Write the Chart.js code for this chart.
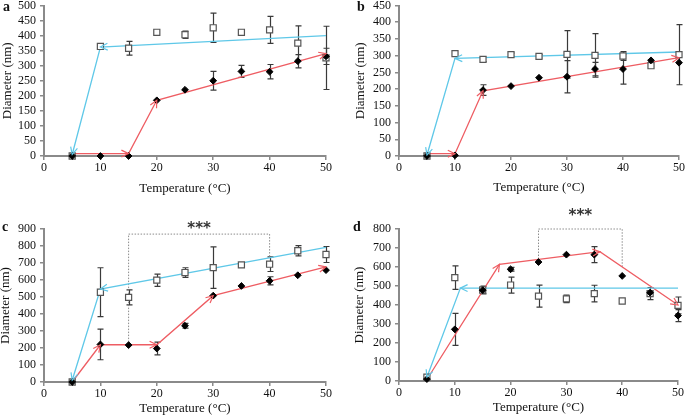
<!DOCTYPE html>
<html lang="en">
<head>
<meta charset="UTF-8">
<title>Diameter vs temperature</title>
<style>
  body { margin: 0; background: #fff; }
  #wrap { position: relative; width: 685px; height: 416px; overflow: hidden; }
  #wrap canvas { position: absolute; }
</style>
</head>
<body>
<div id="wrap">
  <canvas id="chartA" width="340" height="205" style="left:0;top:0"></canvas>
  <canvas id="chartB" width="345" height="205" style="left:340px;top:0"></canvas>
  <canvas id="chartC" width="340" height="211" style="left:0;top:205px"></canvas>
  <canvas id="chartD" width="345" height="211" style="left:340px;top:205px"></canvas>
</div>
<script src="https://cdn.jsdelivr.net/npm/chart.js"></script>
<script>
// temperatures shared by every panel
const temps = [5, 10, 15, 20, 25, 30, 35, 40, 45, 50];

// panel a
const aSquare = [0, 364, 358, 411, 403, 426, 411, 419, 375, 326];
const aSquareErr = [null, null, 23, null, 12, 49, null, 45, 57, 105];
const aDiamond = [0, 0, 0, 185, 220, 250, 281, 280, 315, 331];
const aDiamondErr = [null, null, null, null, null, 31, 20, 24, 22, 27];
const aCyanX = [50, 10, 5], aCyanY = [400, 362, 5];
const aRedX = [5, 15, 20, 50], aRedY = [8, 8, 185, 340];

// panel b
const bSquare = [0, 306, 289, 303, 298, 304, 301, 299, 270, 303];
const bSquareErr = [null, null, 7, 5, 5, 71, 65, 13, null, 90];
const bDiamond = [0, 2, 197, 209, 234, 237, 260, 260, 286, 279];
const bDiamondErr = [null, null, 16, null, null, 48, 20, 45, null, null];
const bCyanX = [50, 10, 5], bCyanY = [311, 292, 3];
const bRedX = [5, 10, 15, 50], bRedY = [7, 7, 195, 294];

// panel c
const cSquare = [0, 528, 498, 599, 644, 673, 689, 693, 772, 750];
const cSquareErr = [null, 144, 44, 36, 28, 122, 10, 43, 30, 47];
const cDiamond = [0, 221, 217, 197, 331, 508, 565, 595, 628, 658];
const cDiamondErr = [null, 90, null, 37, 14, null, null, 24, null, null];
const cCyanX = [50, 10, 5], cCyanY = [792, 547, 10];
const cRedX = [5, 10, 20, 30, 50], cRedY = [0, 219, 219, 508, 677];
const cBracketX = [15, 15, 40, 40], cBracketY = [217, 870, 870, 729];
const cStars = [27.5, 923];

// panel d
const dSquare = [20, 544, 479, 505, 447, 432, 460, 421, 460, 398];
const dSquareErr = [null, 62, 20, 42, 58, 20, 44, null, 32, 44];
const dDiamond = [10, 272, 478, 588, 626, 665, 665, 553, 465, 344];
const dDiamondErr = [null, 84, null, 10, null, null, 42, null, null, 32];
const dCyanX = [50, 11, 5], dCyanY = [489, 489, 20];
const dRedX = [5, 18, 36, 50], dRedY = [8, 614, 681, 400];
const dBracketX = [25, 25, 40, 40], dBracketY = [626, 800, 800, 593];
const dStars = [32.5, 889];

const xTicksMax = 50, xStep = 10;
const yMax = [500, 450, 900, 800];
const yStep = [50, 50, 100, 100];

const axisGrey = '#8a8a8a';
const cyan = '#5fc8e8';
const red = '#ee5d63';
const serif = '"Liberation Serif", "Times New Roman", serif';

const pts = (xs, ys) => xs.map((x, i) => ({ x: x, y: ys[i] }));

const extras = {
  id: 'extras',
  beforeDatasetsDraw(chart) {
    const { ctx, scales: { x, y } } = chart;
    ctx.save();
    ctx.strokeStyle = '#3a3a3a';
    ctx.lineWidth = 1.2;
    chart.data.datasets.forEach(ds => {
      if (!ds.errors) return;
      ds.data.forEach((p, i) => {
        const e = ds.errors[i];
        if (e == null) return;
        const px = Math.round(x.getPixelForValue(p.x)) + 0.5;
        const top = y.getPixelForValue(p.y + e);
        const bot = y.getPixelForValue(p.y - e);
        ctx.beginPath();
        ctx.moveTo(px, top); ctx.lineTo(px, bot);
        ctx.moveTo(px - 3, top); ctx.lineTo(px + 3, top);
        ctx.moveTo(px - 3, bot); ctx.lineTo(px + 3, bot);
        ctx.stroke();
      });
    });
    ctx.restore();
  },
  afterDatasetsDraw(chart, args, opts) {
    const { ctx, scales: { x, y } } = chart;
    ctx.save();
    // open arrow heads at the end of every trend segment
    chart.data.datasets.forEach((ds, i) => {
      if (!ds.arrows) return;
      const el = chart.getDatasetMeta(i).data;
      ctx.strokeStyle = ds.borderColor;
      ctx.lineWidth = 1.2;
      for (let k = 1; k < el.length; k++) {
        const a = el[k - 1], b = el[k];
        const ang = Math.atan2(b.y - a.y, b.x - a.x);
        ctx.beginPath();
        ctx.moveTo(b.x - 8 * Math.cos(ang - 0.45), b.y - 8 * Math.sin(ang - 0.45));
        ctx.lineTo(b.x, b.y);
        ctx.lineTo(b.x - 8 * Math.cos(ang + 0.45), b.y - 8 * Math.sin(ang + 0.45));
        ctx.stroke();
      }
    });
    if (opts.stars) {
      ctx.fillStyle = '#333';
      ctx.font = 'bold 15px "DejaVu Sans"';
      ctx.textAlign = 'center';
      ctx.textBaseline = 'middle';
      ctx.fillText('***', x.getPixelForValue(opts.stars[0]), y.getPixelForValue(opts.stars[1]) + 4);
    }
    ctx.fillStyle = '#111';
    ctx.font = 'bold 14px ' + serif;
    ctx.textAlign = 'left';
    ctx.textBaseline = 'alphabetic';
    ctx.fillText(opts.letter, opts.letterPos[0], opts.letterPos[1]);
    ctx.restore();
  }
};

function makePanel(id, p) {
  const datasets = [
    { data: pts(temps, p.diamond), errors: p.diamondErr, pointStyle: 'rectRot', pointRadius: 3.4,
      backgroundColor: '#000', borderColor: '#000', borderWidth: 1, clip: false },
    { data: pts(temps, p.square), errors: p.squareErr, pointStyle: 'rect', pointRadius: 4.3,
      backgroundColor: '#fff', borderColor: '#555', borderWidth: 1.2, clip: false },
    { data: pts(p.cyanX, p.cyanY), showLine: true, arrows: true, pointRadius: 0,
      borderColor: cyan, borderWidth: 1.3, clip: false },
    { data: pts(p.redX, p.redY), showLine: true, arrows: true, pointRadius: 0,
      borderColor: red, borderWidth: 1.3, clip: false }
  ];
  if (p.bracketX) {
    datasets.push({ data: pts(p.bracketX, p.bracketY), showLine: true, pointRadius: 0,
      borderColor: '#8c8c8c', borderWidth: 1, borderDash: [1.5, 1.5], clip: false });
  }
  return new Chart(document.getElementById(id), {
    type: 'scatter',
    data: { datasets: datasets },
    options: {
      responsive: false,
      animation: false,
      devicePixelRatio: 1,
      events: [],
      layout: { padding: { left: 0, top: p.top, right: p.right, bottom: 0 } },
      plugins: {
        legend: { display: false },
        tooltip: { enabled: false },
        extras: { letter: p.letter, letterPos: p.letterPos, stars: p.stars }
      },
      scales: {
        x: {
          type: 'linear', min: 0, max: xTicksMax,
          ticks: { stepSize: xStep, padding: 1, autoSkip: false, color: '#111', font: { family: serif, size: 12 } },
          grid: { drawOnChartArea: false, drawTicks: true, tickLength: 4, color: axisGrey, lineWidth: 1.5 },
          border: { display: true, color: axisGrey, width: 2 },
          title: { display: true, text: 'Temperature (°C)', color: '#111',
            font: { family: serif, size: 13 }, padding: { top: 0, bottom: p.xTitlePad } },
          afterFit(s) { s.height = p.xHeight; s.paddingLeft = 0; s.paddingRight = 0; }
        },
        y: {
          type: 'linear', min: 0, max: p.yMax,
          ticks: { stepSize: p.yStep, padding: 4, autoSkip: false, color: '#111', font: { family: serif, size: 12 } },
          grid: { drawOnChartArea: false, drawTicks: true, tickLength: 4, color: axisGrey, lineWidth: 1.5 },
          border: { display: true, color: axisGrey, width: 2 },
          title: { display: true, text: 'Diameter (nm)', color: '#111',
            font: { family: serif, size: 13 }, padding: { top: p.yTitlePad, bottom: 0 } },
          afterFit(s) { s.width = p.yWidth; s.paddingTop = 0; s.paddingBottom = 0; }
        }
      }
    },
    plugins: [extras]
  });
}

makePanel('chartA', {
  square: aSquare, squareErr: aSquareErr, diamond: aDiamond, diamondErr: aDiamondErr,
  cyanX: aCyanX, cyanY: aCyanY, redX: aRedX, redY: aRedY,
  yMax: yMax[0], yStep: yStep[0], letter: 'a', letterPos: [3, 11],
  top: 5, right: 14, xHeight: 49, yWidth: 44, xTitlePad: 9, yTitlePad: 0
});
makePanel('chartB', {
  square: bSquare, squareErr: bSquareErr, diamond: bDiamond, diamondErr: bDiamondErr,
  cyanX: bCyanX, cyanY: bCyanY, redX: bRedX, redY: bRedY,
  yMax: yMax[1], yStep: yStep[1], letter: 'b', letterPos: [17, 11],
  top: 5, right: 6, xHeight: 49, yWidth: 59, xTitlePad: 10, yTitlePad: 13
});
makePanel('chartC', {
  square: cSquare, squareErr: cSquareErr, diamond: cDiamond, diamondErr: cDiamondErr,
  cyanX: cCyanX, cyanY: cCyanY, redX: cRedX, redY: cRedY,
  bracketX: cBracketX, bracketY: cBracketY, stars: cStars,
  yMax: yMax[2], yStep: yStep[2], letter: 'c', letterPos: [2, 26],
  top: 24, right: 14, xHeight: 34, yWidth: 44, xTitlePad: 0, yTitlePad: -2
});
makePanel('chartD', {
  square: dSquare, squareErr: dSquareErr, diamond: dDiamond, diamondErr: dDiamondErr,
  cyanX: dCyanX, cyanY: dCyanY, redX: dRedX, redY: dRedY,
  bracketX: dBracketX, bracketY: dBracketY, stars: dStars,
  yMax: yMax[3], yStep: yStep[3], letter: 'd', letterPos: [13, 26],
  top: 24, right: 7, xHeight: 35, yWidth: 59, xTitlePad: 1, yTitlePad: 12
});
</script>
</body>
</html>
